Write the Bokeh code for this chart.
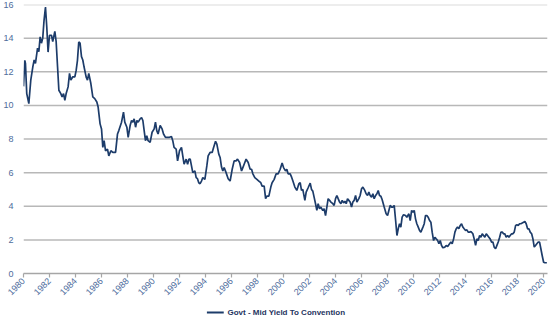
from math import pi
from bokeh.plotting import figure
from bokeh.layouts import column
from bokeh.models import Range1d, FixedTicker, Label
from bokeh.embed import file_html
from bokeh.resources import INLINE

series_name = "Govt - Mid Yield To Convention"

years = [
    1980.00, 1980.10, 1980.15, 1980.25, 1980.41, 1980.56, 1980.72, 1980.82, 1980.92,
    1981.08, 1981.18, 1981.28, 1981.38, 1981.48, 1981.58, 1981.69, 1981.79, 1981.89,
    1982.00, 1982.15, 1982.25, 1982.41, 1982.51, 1982.62, 1982.72, 1982.87, 1982.97,
    1983.08, 1983.18, 1983.28, 1983.43, 1983.54, 1983.64, 1983.79, 1983.95,
    1984.05, 1984.15, 1984.25, 1984.35, 1984.46, 1984.56, 1984.66, 1984.82, 1984.92,
    1985.02, 1985.18, 1985.33, 1985.48, 1985.64, 1985.74, 1985.89,
    1986.00, 1986.10, 1986.20, 1986.31, 1986.46, 1986.56, 1986.72, 1986.87,
    1987.08, 1987.23, 1987.33, 1987.54, 1987.69, 1987.79, 1987.95,
    1988.05, 1988.20, 1988.31, 1988.41, 1988.51, 1988.62, 1988.72, 1988.82, 1988.97,
    1989.08, 1989.18, 1989.28, 1989.38, 1989.48, 1989.58, 1989.74, 1989.89,
    1990.05, 1990.15, 1990.25, 1990.35, 1990.51, 1990.66, 1990.77, 1990.92,
    1991.08, 1991.23, 1991.38, 1991.48, 1991.58, 1991.74, 1991.85,
    1992.00, 1992.15, 1992.25, 1992.35, 1992.51, 1992.62, 1992.72, 1992.82, 1992.92,
    1993.02, 1993.18, 1993.28, 1993.38, 1993.48, 1993.58, 1993.69, 1993.79, 1993.95,
    1994.10, 1994.20, 1994.35, 1994.51, 1994.62, 1994.77, 1994.87,
    1995.02, 1995.12, 1995.23, 1995.33, 1995.43, 1995.58, 1995.74, 1995.89,
    1996.05, 1996.20, 1996.35, 1996.46, 1996.62, 1996.77, 1996.87, 1996.97,
    1997.12, 1997.28, 1997.43, 1997.54, 1997.64, 1997.79, 1997.95,
    1998.10, 1998.25, 1998.35, 1998.51, 1998.62, 1998.72, 1998.87,
    1999.02, 1999.12, 1999.28, 1999.43, 1999.58, 1999.74, 1999.89,
    2000.00, 2000.15, 2000.25, 2000.35, 2000.51, 2000.62, 2000.72, 2000.87,
    2001.02, 2001.18, 2001.28, 2001.38, 2001.48, 2001.64, 2001.74, 2001.89,
    2002.05, 2002.15, 2002.25, 2002.35, 2002.46, 2002.56, 2002.66, 2002.77, 2002.87,
    2003.02, 2003.12, 2003.23, 2003.33, 2003.43, 2003.54, 2003.64, 2003.79, 2003.89,
    2004.00, 2004.10, 2004.20, 2004.31, 2004.41, 2004.51, 2004.62, 2004.72, 2004.82, 2004.92,
    2005.02, 2005.12, 2005.23, 2005.33, 2005.43, 2005.54, 2005.64, 2005.79, 2005.89,
    2006.00, 2006.10, 2006.25, 2006.35, 2006.46, 2006.56, 2006.66, 2006.77, 2006.87, 2006.97,
    2007.08, 2007.18, 2007.28, 2007.38, 2007.48, 2007.58, 2007.74, 2007.89,
    2008.00, 2008.10, 2008.20, 2008.31, 2008.41, 2008.51, 2008.62, 2008.72, 2008.82, 2008.92,
    2009.02, 2009.12, 2009.23, 2009.38, 2009.48, 2009.64, 2009.74, 2009.85, 2009.95,
    2010.05, 2010.15, 2010.25, 2010.36, 2010.46, 2010.56, 2010.72, 2010.82, 2010.92,
    2011.02, 2011.12, 2011.23, 2011.33, 2011.43, 2011.54, 2011.64, 2011.74, 2011.85, 2011.95,
    2012.05, 2012.15, 2012.25, 2012.41, 2012.51, 2012.62, 2012.77, 2012.87, 2012.97,
    2013.08, 2013.18, 2013.28, 2013.38, 2013.48, 2013.59, 2013.69, 2013.79, 2013.89,
    2014.00, 2014.10, 2014.20, 2014.31, 2014.41, 2014.56, 2014.66, 2014.77, 2014.87, 2014.97,
    2015.08, 2015.18, 2015.28, 2015.38, 2015.48, 2015.59, 2015.69, 2015.79, 2015.89,
    2016.00, 2016.10, 2016.20, 2016.31, 2016.41, 2016.51, 2016.62, 2016.72, 2016.82, 2016.92,
    2017.02, 2017.12, 2017.23, 2017.33, 2017.43, 2017.54, 2017.64, 2017.74, 2017.85, 2017.95,
    2018.05, 2018.15, 2018.25, 2018.35, 2018.46, 2018.56, 2018.66, 2018.77, 2018.87, 2018.97,
    2019.08, 2019.18, 2019.28, 2019.38, 2019.48, 2019.59, 2019.69, 2019.79, 2019.89,
    2020.00, 2020.10, 2020.25,
]

yields = [
    11.13, 12.68, 12.50, 10.70, 10.10, 11.50, 12.30, 12.70, 12.50,
    13.40, 13.20, 14.07, 13.70, 14.00, 15.06, 15.85, 14.66, 13.17,
    14.17, 14.17, 13.80, 14.40, 13.80, 12.28, 10.90, 10.70, 10.50,
    10.70, 10.30, 10.70, 11.10, 11.90, 11.50, 11.70, 11.70,
    12.08, 12.68, 13.77, 13.70, 12.90, 12.70, 12.28, 11.68, 11.50,
    11.90, 11.30, 10.50, 10.40, 10.20, 9.90, 8.90,
    8.60, 7.50, 7.90, 7.30, 7.40, 7.00, 7.30, 7.20,
    7.20, 8.30, 8.50, 9.00, 9.60, 9.00, 8.70,
    8.10, 8.80, 9.10, 9.00, 9.20, 8.70, 9.10, 9.00, 9.20,
    9.27, 9.10, 8.50, 7.90, 8.20, 7.90, 7.80, 8.40,
    8.60, 9.00, 8.50, 8.30, 8.80, 8.60, 8.30, 8.10,
    8.10, 8.10, 8.15, 7.90, 7.50, 7.40, 6.70,
    7.30, 7.50, 7.00, 6.50, 6.80, 6.50, 6.80, 6.80, 6.40,
    6.00, 6.10, 5.70, 5.64, 5.40, 5.34, 5.50, 5.70, 5.60,
    6.40, 7.00, 7.20, 7.20, 7.50, 7.86, 7.70,
    7.10, 6.90, 6.33, 6.10, 6.30, 6.00, 5.64, 5.50,
    6.20, 6.70, 6.70, 6.80, 6.60, 6.10, 6.30, 6.50,
    6.80, 6.60, 6.20, 6.20, 5.93, 5.70, 5.60,
    5.50, 5.40, 5.20, 5.20, 4.45, 4.60, 4.60,
    5.14, 5.40, 5.60, 5.93, 5.93, 6.20, 6.57,
    6.30, 6.10, 6.20, 5.93, 5.93, 5.73, 5.50, 5.14,
    4.94, 5.34, 5.40, 4.94, 5.00, 4.35, 4.84, 5.10,
    5.38, 5.00, 4.90, 4.54, 4.15, 3.75, 4.15, 3.85, 3.95,
    3.75, 3.85, 3.45, 3.95, 4.45, 4.35, 4.25, 4.15, 4.05,
    4.45, 4.64, 4.45, 4.25, 4.15, 4.35, 4.20, 4.30, 4.15, 4.45,
    4.35, 4.25, 3.95, 4.25, 4.35, 4.64, 4.25, 4.45, 4.64,
    5.04, 5.14, 4.94, 4.74, 4.64, 4.84, 4.64, 4.54, 4.74, 4.45,
    4.64, 4.74, 4.94, 4.64, 4.60, 4.40, 3.95, 3.55,
    3.45, 3.75, 4.05, 3.95, 3.95, 4.05, 3.15, 2.26, 2.66, 2.96,
    2.76, 3.35, 3.50, 3.45, 3.35, 3.55, 3.15, 3.75, 3.65,
    3.75, 3.25, 2.96, 2.76, 2.56, 2.46, 2.76, 2.96, 3.45,
    3.45, 3.35, 3.15, 3.05, 2.46, 1.96, 2.16, 2.06, 1.96, 1.77,
    1.96, 1.67, 1.53, 1.57, 1.67, 1.60, 1.77, 1.87, 1.77,
    2.06, 2.46, 2.66, 2.76, 2.66, 2.86, 2.96, 2.76, 2.66,
    2.56, 2.60, 2.46, 2.46, 2.50, 2.36, 2.06, 1.67, 2.06, 1.96,
    2.26, 2.16, 2.36, 2.26, 2.16, 2.36, 2.26, 2.16, 2.06,
    1.87, 1.87, 1.57, 1.47, 1.67, 1.87, 2.16, 2.46, 2.46, 2.36,
    2.36, 2.16, 2.26, 2.16, 2.26, 2.36, 2.36, 2.46, 2.86, 2.90,
    2.86, 2.96, 2.96, 3.00, 3.05, 3.10, 2.96, 2.66, 2.66, 2.46,
    2.36, 2.06, 1.57, 1.67, 1.77, 1.87, 1.87, 1.47, 1.07,
    0.67, 0.64, 0.64,
]

x_ticks = list(range(1980, 2021, 2))
y_ticks = list(range(0, 17, 2))

X_START, X_END = 1980, 2020.3
Y_START, Y_END = 0, 16

LABEL_COLOR = "#4d6c9c"
LINE_COLOR = "#1d3c6a"
GRID_COLOR = "#b8b8b8"
FONT = "Liberation Sans"

p = figure(
    frame_width=524, frame_height=269, output_backend="svg", toolbar_location=None,
    x_range=Range1d(X_START, X_END), y_range=Range1d(Y_START, Y_END),
    min_border_left=23, min_border_right=13, min_border_top=4, min_border_bottom=32,
)
p.outline_line_color = None
p.xgrid.visible = False
p.ygrid.visible = False

# horizontal gridlines as thin bars (about 1.5 px tall), behind the series
grid_h = 1.5 * (Y_END - Y_START) / 269
p.hbar(y=y_ticks[1:], height=grid_h, left=X_START, right=X_END,
       fill_color=GRID_COLOR, line_color=None)

r = p.line(years, yields, line_color=LINE_COLOR, line_width=1.7)

p.yaxis.ticker = FixedTicker(ticks=y_ticks)
p.xaxis.ticker = FixedTicker(ticks=x_ticks)

p.yaxis.axis_line_color = None
p.yaxis.major_tick_line_color = None
p.yaxis.minor_tick_line_color = None
p.yaxis.major_label_text_font_size = "9px"
p.yaxis.major_label_text_color = LABEL_COLOR
p.yaxis.major_label_text_font = FONT
p.yaxis.major_label_standoff = 4

p.xaxis.major_label_orientation = pi / 4
p.xaxis.axis_line_color = "#a6a6a6"
p.xaxis.axis_line_width = 1.5
p.xaxis.major_tick_line_color = "#a6a6a6"
p.xaxis.major_tick_line_width = 1.2
p.xaxis.major_tick_out = 4
p.xaxis.major_tick_in = 0
p.xaxis.minor_tick_line_color = None
p.xaxis.major_label_text_font_size = "9px"
p.xaxis.major_label_text_color = LABEL_COLOR
p.xaxis.major_label_text_font = FONT
p.xaxis.major_label_standoff = 2

# legend strip below the chart (ranges in pixel units of the strip)
LEG_W, LEG_H = 560, 14
KEY_X0, KEY_LEN, KEY_GAP = 196, 18, 4
lf = figure(
    width=LEG_W, height=LEG_H, output_backend="svg", toolbar_location=None,
    x_axis_type=None, y_axis_type=None, min_border=0,
    x_range=Range1d(0, LEG_W), y_range=Range1d(0, LEG_H),
)
lf.outline_line_color = None
lf.xgrid.visible = False
lf.ygrid.visible = False
lf.hbar(y=[LEG_H / 2], height=2, left=KEY_X0, right=KEY_X0 + KEY_LEN,
        fill_color=LINE_COLOR, line_color=None)
lf.add_layout(Label(
    x=KEY_X0 + KEY_LEN + KEY_GAP, y=LEG_H / 2, text=series_name,
    text_baseline="middle", text_align="left",
    text_font=FONT, text_font_size="8px", text_font_style="bold",
    text_color="#1f3561",
))

layout = column(p, lf, spacing=0)
open("out.html", "w").write(file_html(layout, INLINE))
